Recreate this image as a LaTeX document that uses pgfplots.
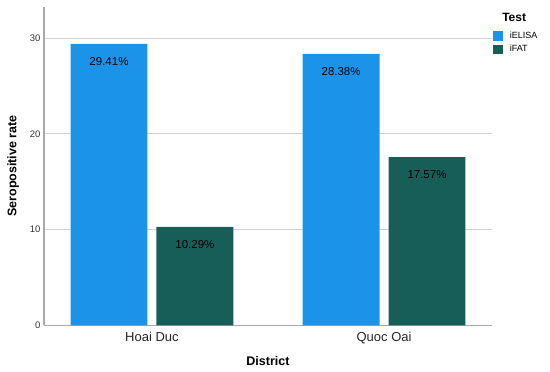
\documentclass[border=0pt]{standalone}
\usepackage{fontspec}
\setmainfont{Liberation Sans}
\usepackage{pgfplots}
\pgfplotsset{compat=1.18}
\definecolor{elisa}{HTML}{1A93E8}
\definecolor{ifat}{HTML}{175E58}
\definecolor{axgray}{HTML}{A8A8A8}
\definecolor{gridgray}{HTML}{D2D2D2}
\definecolor{ticktext}{HTML}{333333}
\pgfplotsset{sqlegend/.style={legend image code/.code={\fill[##1] (0pt,-4.8pt) rectangle (9.8pt,4.8pt);}}}
\begin{document}
\begin{tikzpicture}
\useasboundingbox (-44pt,-46.7pt) rectangle (506pt,325.3pt);
\begin{axis}[
  at={(0,0)}, anchor=south west,
  scale only axis, width=448pt, height=318.6pt,
  xmin=-0.465, xmax=1.465, ymin=0, ymax=33.3,
  axis lines*=left,
  axis line style={axgray, line width=1.1pt, -},
  major tick length=0pt,
  xtick={0,1}, xticklabels={Hoai Duc, Quoc Oai},
  ytick={0,10,20,30},
  ymajorgrids, grid style={gridgray, line width=0.9pt},
  /pgf/number format/assume math mode=true,
  yticklabel style={font=\fontsize{9.5}{11}\selectfont, text=ticktext},
  xticklabel style={font=\fontsize{13}{15}\selectfont, text=black!85, yshift=-3.4pt},
  xlabel={District}, ylabel={Seropositive rate},
  xlabel style={font=\bfseries\fontsize{12.5}{14}\selectfont, at={(axis description cs:0.5,-0.113)}, anchor=center},
  ylabel style={font=\bfseries\fontsize{12.5}{14}\selectfont, at={(axis description cs:-0.069,0.5)}, anchor=center},
  nodes near coords={\pgfmathprintnumber[fixed,fixed zerofill,precision=2]{\pgfplotspointmeta}\%},
  nodes near coords style={anchor=center, yshift=-17.4pt, font=\fontsize{11.5}{13}\selectfont, text=black},
  legend style={at={(axis description cs:1.002,0.928)}, anchor=north west, draw=none, fill=none,
    font=\fontsize{9}{10}\selectfont, row sep=1.5pt, inner sep=0pt,
    /tikz/every odd column/.append style={column sep=5pt}},
  legend cell align=left,
  clip=false,
]
\addplot[ybar, bar width=0.331, fill=elisa, draw=none, sqlegend] coordinates {(-0.185,29.41) (0.815,28.38)};
\addlegendentry{iELISA}
\addplot[ybar, bar width=0.331, fill=ifat, draw=none, sqlegend] coordinates {(0.185,10.29) (1.185,17.57)};
\addlegendentry{iFAT}
\node[anchor=west, font=\bfseries\fontsize{12}{14}\selectfont] at (axis description cs:1.015,0.965) {Test};
\end{axis}
\end{tikzpicture}
\end{document}
